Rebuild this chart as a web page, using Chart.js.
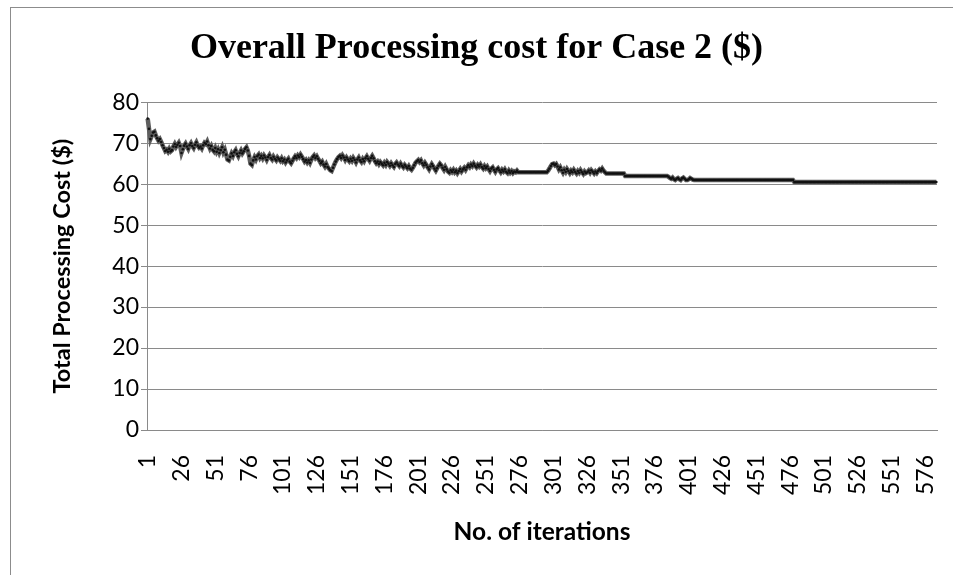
<!DOCTYPE html>
<html><head><meta charset="utf-8">
<script src="https://cdn.jsdelivr.net/npm/chart.js@4"></script>
<style>
html,body{margin:0;padding:0;background:#fff;overflow:hidden;width:953px;height:575px;}
#frame{position:absolute;left:10px;top:7px;width:1000px;height:700px;border:1px solid #8c8c8c;}
#wrap{position:absolute;left:0;top:0;width:953px;height:575px;}
</style></head><body>
<div id="frame"></div>
<div id="wrap"><canvas id="c" width="953" height="575"></canvas></div>
<script>
const chartTitle = "Overall Processing cost for Case 2 ($)";
const xAxisTitle = "No. of iterations";
const yAxisTitle = "Total Processing Cost ($)";
const yTicks = [0, 10, 20, 30, 40, 50, 60, 70, 80];
const labelEvery = 25;

// Total processing cost per iteration, 25 per row
const totalCost = [
76.0,73.5,71.0,71.8,72.6,72.8,71.9,71.2,70.6,71.0,70.3,69.5,68.8,68.1,68.4,67.9,68.6,68.0,68.3,69.2,69.8,69.1,69.6,70.1,69.3,
67.6,68.5,69.4,69.9,69.2,68.6,69.5,70.0,69.3,68.8,69.6,70.2,69.4,68.9,69.2,68.7,69.5,70.1,69.8,70.4,69.5,68.7,69.3,68.4,68.0,
68.8,67.9,68.5,67.6,68.3,69.0,67.8,68.4,67.2,66.0,65.8,66.7,67.5,66.9,67.8,68.3,67.4,66.8,67.6,68.2,67.5,68.0,68.6,69.0,68.2,
66.9,65.0,64.7,65.8,66.6,66.0,66.8,67.2,66.4,66.9,66.3,67.0,66.5,65.9,66.6,67.1,66.4,66.0,66.7,66.2,65.8,66.5,66.1,65.7,66.3,
65.6,66.0,65.3,65.8,66.2,65.5,65.1,65.7,66.3,66.8,66.4,67.0,66.6,67.2,66.7,66.1,65.5,65.9,65.3,65.8,65.2,66.0,66.6,67.0,66.4,
66.8,66.2,65.7,65.1,65.5,64.8,64.3,64.9,64.2,63.8,63.4,63.2,64.0,64.8,65.5,66.1,66.6,66.9,66.4,67.0,66.5,65.9,66.5,66.0,65.6,
66.2,65.7,66.4,65.9,65.3,66.0,66.5,65.8,65.4,66.1,65.6,66.3,66.8,66.2,65.7,66.4,66.9,66.3,65.6,65.1,65.5,64.9,65.4,65.0,64.6,
65.2,64.7,65.4,65.0,64.5,65.1,64.6,64.2,64.9,65.3,64.8,64.4,65.0,64.5,64.1,64.7,64.3,63.9,64.4,63.8,63.5,64.0,64.6,65.2,65.6,
65.9,65.4,65.8,65.1,64.6,65.2,64.7,64.1,63.6,64.3,64.9,64.4,63.8,63.3,63.9,64.5,65.0,64.6,64.0,63.5,64.2,63.6,63.1,62.8,63.4,
63.0,63.5,62.9,63.3,62.7,63.2,63.7,63.1,63.6,64.0,63.5,64.1,64.6,64.2,64.8,64.4,65.0,64.5,64.1,64.7,64.3,64.8,64.2,63.8,64.4,
63.9,64.3,63.7,63.2,63.8,64.1,63.5,63.0,63.6,63.9,63.4,62.9,63.5,63.1,63.6,63.0,62.7,63.3,62.8,63.2,62.7,63.1,62.9,63.3,62.9,
62.9,62.9,62.9,62.9,62.9,62.9,62.9,62.9,62.9,62.9,62.9,62.9,62.9,62.9,62.9,62.9,62.9,62.9,62.9,62.9,62.9,63.3,63.8,64.4,64.9,
65.0,64.6,64.9,64.3,63.6,64.1,63.4,62.8,63.5,63.0,63.7,63.2,62.7,63.3,62.9,63.5,63.0,62.6,63.2,62.8,63.4,62.9,62.5,63.1,62.7,
62.9,63.3,62.8,63.4,63.0,62.6,63.1,62.7,63.2,63.6,63.3,63.8,63.3,62.9,62.6,62.6,62.6,62.6,62.6,62.6,62.6,62.6,62.6,62.6,62.6,
62.6,62.6,62.6,62.0,62.0,62.0,62.0,62.0,62.0,62.0,62.0,62.0,62.0,62.0,62.0,62.0,62.0,62.0,62.0,62.0,62.0,62.0,62.0,62.0,62.0,
62.0,62.0,62.0,62.0,62.0,62.0,62.0,62.0,62.0,62.0,61.8,61.5,61.3,61.6,61.2,61.0,61.3,61.5,61.2,61.0,61.4,61.6,61.3,61.0,61.0,
61.2,61.5,61.3,61.1,61.0,61.0,61.0,61.0,61.0,61.0,61.0,61.0,61.0,61.0,61.0,61.0,61.0,61.0,61.0,61.0,61.0,61.0,61.0,61.0,61.0,
61.0,61.0,61.0,61.0,61.0,61.0,61.0,61.0,61.0,61.0,61.0,61.0,61.0,61.0,61.0,61.0,61.0,61.0,61.0,61.0,61.0,61.0,61.0,61.0,61.0,
61.0,61.0,61.0,61.0,61.0,61.0,61.0,61.0,61.0,61.0,61.0,61.0,61.0,61.0,61.0,61.0,61.0,61.0,61.0,61.0,61.0,61.0,61.0,61.0,61.0,
61.0,61.0,61.0,60.5,60.5,60.5,60.5,60.5,60.5,60.5,60.5,60.5,60.5,60.5,60.5,60.5,60.5,60.5,60.5,60.5,60.5,60.5,60.5,60.5,60.5,
60.5,60.5,60.5,60.5,60.5,60.5,60.5,60.5,60.5,60.5,60.5,60.5,60.5,60.5,60.5,60.5,60.5,60.5,60.5,60.5,60.5,60.5,60.5,60.5,60.5,
60.5,60.5,60.5,60.5,60.5,60.5,60.5,60.5,60.5,60.5,60.5,60.5,60.5,60.5,60.5,60.5,60.5,60.5,60.5,60.5,60.5,60.5,60.5,60.5,60.5,
60.5,60.5,60.5,60.5,60.5,60.5,60.5,60.5,60.5,60.5,60.5,60.5,60.5,60.5,60.5,60.5,60.5,60.5,60.5,60.5,60.5,60.5,60.5,60.5,60.5,
60.5,60.5,60.5,60.5,60.5,60.5,60.5,60.5,60.5
];

// Category labels: iteration numbers 1..N
const iterations = totalCost.map((v, i) => String(i + 1));

const gridColor = '#8a8a8a';

new Chart(document.getElementById('c'), {
  type: 'line',
  data: {
    labels: iterations,
    datasets: [{
      data: totalCost,
      borderColor: '#5e5e5e',
      borderWidth: 4.5,
      tension: 0,
      pointRadius: 1.3,
      pointBorderWidth: 0,
      pointBackgroundColor: '#111111',
      fill: false
    }]
  },
  options: {
    responsive: false,
    animation: false,
    devicePixelRatio: 1,
    layout: { padding: { left: 16, right: 16, top: 0, bottom: 28 } },
    plugins: {
      legend: { display: false },
      tooltip: { enabled: false },
      title: {
        display: true,
        text: chartTitle,
        color: '#000',
        font: { family: '"Liberation Serif", "Times New Roman", serif', size: 36, weight: 'bold' },
        padding: { top: 27, bottom: 32 }
      }
    },
    scales: {
      x: {
        type: 'category',
        offset: true,
        grid: { display: false, drawTicks: false },
        border: { display: true, color: gridColor, width: 1 },
        afterFit: function (s) { s.height = 117; s.paddingLeft = 0; s.paddingRight = 0; },
        ticks: {
          autoSkip: false,
          minRotation: 90,
          maxRotation: 90,
          padding: 25,
          color: '#000',
          font: { family: 'Lato, "Open Sans", sans-serif', size: 23 },
          callback: function (val, idx) { return (idx % labelEvery === 0) ? iterations[idx] : ''; }
        },
        title: {
          display: true,
          text: xAxisTitle,
          color: '#000',
          font: { family: 'Lato, "Open Sans", sans-serif', size: 24.5, weight: 'bold' },
          padding: { top: 0, bottom: 0 }
        }
      },
      y: {
        min: 0,
        max: 80,
        afterBuildTicks: function (scale) { scale.ticks = yTicks.map(v => ({ value: v })); },
        afterFit: function (s) { s.width = 131; },
        grid: { color: gridColor, lineWidth: 1, tickLength: 6, drawTicks: true },
        border: { display: true, color: gridColor, width: 1 },
        ticks: {
          padding: 2,
          color: '#000',
          font: { family: 'Lato, "Open Sans", sans-serif', size: 23 }
        },
        title: {
          display: true,
          text: yAxisTitle,
          color: '#000',
          font: { family: 'Lato, "Open Sans", sans-serif', size: 23.5, weight: 'bold' },
          padding: { top: 32, bottom: 0 }
        }
      }
    }
  }
});
</script>
</body></html>
